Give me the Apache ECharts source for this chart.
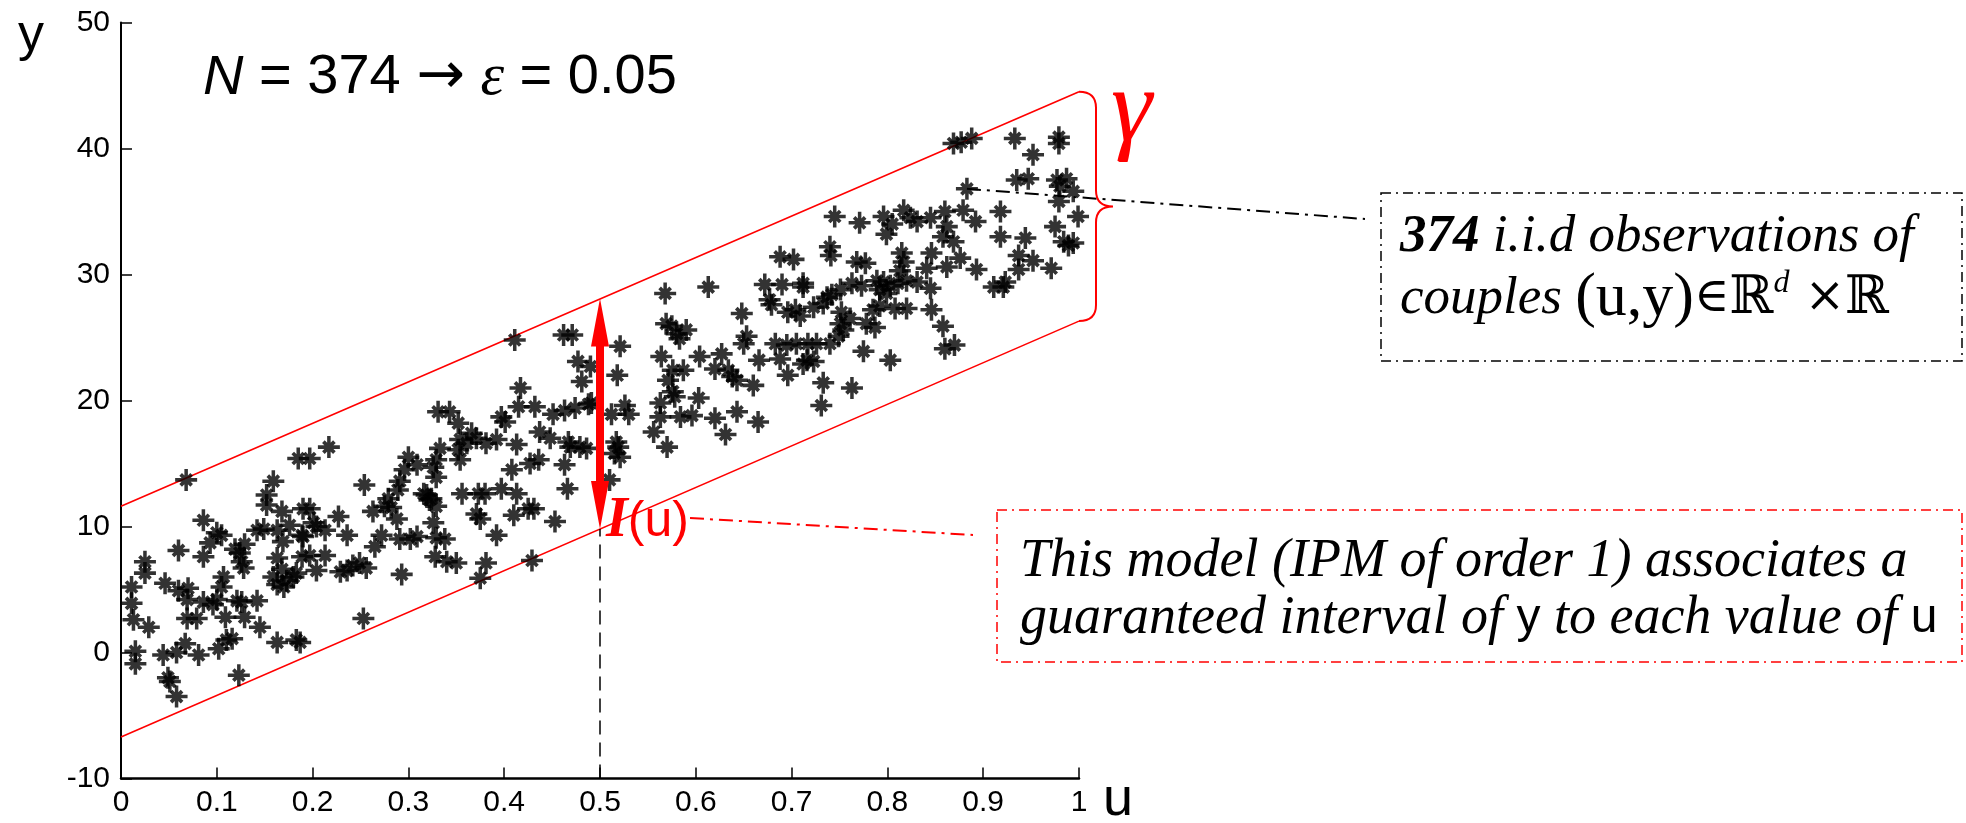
<!DOCTYPE html>
<html>
<head>
<meta charset="utf-8">
<script src="https://cdn.jsdelivr.net/npm/echarts@6/dist/echarts.min.js"></script>
<style>
html, body { margin: 0; padding: 0; background: #fff; }
#main { width: 1966px; height: 823px; }
</style>
</head>
<body>
<div id="main"></div>
<script>
// observations (u, y)
var obsU = [
  0.068,0.185,0.159,0.152,0.152,0.168,0.086,0.100,0.093,0.105,
  0.086,0.060,0.025,0.025,0.011,0.011,0.013,0.029,0.046,0.060,
  0.070,0.069,0.069,0.079,0.086,0.096,0.107,0.105,0.100,0.109,
  0.121,0.126,0.129,0.142,0.145,0.124,0.129,0.119,0.126,0.128,
  0.142,0.149,0.163,0.169,0.163,0.159,0.163,0.173,0.180,0.183,
  0.168,0.189,0.189,0.015,0.015,0.044,0.058,0.067,0.081,0.102,
  0.110,0.116,0.049,0.051,0.058,0.123,0.183,0.187,0.163,0.253,
  0.176,0.170,
  0.197,0.217,0.411,0.331,0.343,0.352,0.354,0.361,0.352,0.354,
  0.371,0.366,0.397,0.401,0.415,0.432,0.417,0.451,0.437,0.448,
  0.392,0.413,0.408,0.427,0.436,0.333,0.329,0.300,0.309,0.326,
  0.329,0.296,0.291,0.289,0.279,0.275,0.282,0.263,0.254,0.288,
  0.319,0.324,0.329,0.326,0.329,0.338,0.328,0.340,0.350,0.309,
  0.302,0.291,0.272,0.265,0.249,0.242,0.236,0.256,0.229,0.293,
  0.356,0.373,0.380,0.397,0.413,0.425,0.431,0.410,0.371,0.375,
  0.392,0.381,0.375,0.429,0.453,0.190,0.197,0.201,0.204,0.213,
  0.227,0.236,0.190,0.197,0.213,0.204,0.316,0.322,0.381,
  0.462,0.471,0.521,0.477,0.490,0.481,0.518,0.568,0.613,0.569,
  0.575,0.580,0.590,0.583,0.564,0.576,0.587,0.571,0.576,0.578,
  0.603,0.563,0.563,0.584,0.596,0.556,0.570,0.604,0.627,0.620,
  0.634,0.643,0.660,0.620,0.643,0.631,0.665,0.648,0.653,0.650,
  0.666,0.688,0.702,0.672,0.690,0.677,0.679,0.712,0.712,0.704,
  0.709,0.683,0.695,0.705,0.688,0.696,0.712,0.716,0.463,0.474,
  0.488,0.491,0.512,0.526,0.530,0.467,0.469,0.479,0.486,0.463,
  0.466,0.517,0.519,0.515,0.521,0.510,0.638,0.696,0.717,
  0.869,0.877,0.888,0.933,0.979,0.979,0.952,0.935,0.947,0.977,
  0.987,0.980,0.994,0.979,0.883,0.918,0.999,0.918,0.944,0.975,
  0.984,0.989,0.994,0.937,0.952,0.937,0.971,0.893,0.911,0.923,
  0.921,0.745,0.771,0.796,0.817,0.824,0.831,0.845,0.805,0.799,
  0.860,0.879,0.892,0.862,0.858,0.869,0.876,0.862,0.846,0.841,
  0.815,0.817,0.813,0.845,0.846,0.858,0.860,0.870,0.803,0.775,
  0.763,0.733,0.731,0.740,0.741,0.768,0.777,0.789,0.796,0.803,
  0.792,0.799,0.811,0.820,0.831,0.763,0.773,0.751,0.742,0.737,
  0.733,0.723,0.752,0.751,0.754,0.749,0.761,0.778,0.787,0.785,
  0.792,0.808,0.820,0.740,0.726,0.723
];
var obsY = [
  13.7,15.4,13.6,12.5,11.7,11.2,10.5,9.5,8.7,9.3,
  7.6,8.1,7.2,6.3,5.2,3.9,2.6,2.0,5.5,4.9,
  5.1,4.2,2.7,2.7,4.0,3.8,6.0,5.2,4.2,2.8,
  4.1,4.0,2.8,4.1,2.0,7.9,8.6,8.2,7.2,6.7,
  9.7,9.8,9.7,8.8,7.5,6.0,5.4,5.7,6.0,6.3,
  6.6,9.3,7.6,0.1,-0.9,-0.2,0.0,0.7,-0.2,0.3,
  1.0,1.1,-2.0,-2.3,-3.5,-1.8,1.0,0.8,0.8,2.7,
  10.1,5.2,
  15.4,16.3,24.8,19.1,19.1,18.2,16.9,16.6,16.1,15.3,
  17.0,17.4,18.7,18.3,19.5,19.5,21.0,18.9,17.5,17.0,
  16.9,16.5,14.5,15.0,15.3,16.2,15.3,15.5,14.9,14.7,
  13.9,14.5,13.6,12.9,12.2,11.6,11.5,11.2,13.3,10.6,
  12.5,12.2,11.6,10.3,9.1,9.0,7.6,7.2,7.1,9.2,
  9.0,9.0,9.3,8.4,7.1,6.9,6.5,6.7,6.4,6.2,
  12.6,12.6,12.6,13.0,12.6,11.4,11.4,10.9,11.0,10.6,
  9.3,7.1,5.9,7.3,10.4,11.4,11.4,10.3,10.0,9.7,
  10.8,9.3,9.2,7.7,7.7,6.5,12.6,12.1,16.6,
  25.2,25.2,24.3,23.1,22.7,21.5,22.0,28.5,29.0,26.1,
  25.9,25.3,25.6,24.9,23.5,22.4,22.4,21.6,20.7,20.3,
  20.2,19.8,18.7,18.7,18.8,17.5,16.3,23.5,23.7,22.5,
  22.4,21.6,21.2,18.6,19.1,17.3,18.3,26.9,25.1,24.5,
  23.2,31.4,31.2,29.2,29.2,28.0,27.6,29.3,29.0,27.2,
  26.7,24.5,24.4,24.5,23.3,22.0,22.9,23.2,19.2,19.4,
  19.7,19.8,18.9,19.6,18.9,16.7,16.3,16.3,16.2,14.9,
  13.0,16.7,16.3,15.8,15.5,13.7,21.9,27.0,24.5,
  40.4,40.5,40.8,40.8,40.4,40.9,39.5,37.5,37.6,37.5,
  37.6,37.0,36.6,35.8,36.8,35.0,34.6,33.0,32.9,33.8,
  32.6,32.3,32.5,31.5,31.1,30.4,30.5,30.4,29.0,29.4,
  29.0,34.6,34.1,34.6,35.1,34.5,34.2,34.5,34.0,33.2,
  35.0,35.1,34.2,33.8,33.0,32.6,31.3,30.6,31.7,30.5,
  31.7,31.0,30.3,28.9,27.2,25.9,24.1,24.4,23.2,23.9,
  21.0,21.4,19.6,32.2,31.5,31.0,30.9,29.5,29.4,29.1,
  28.8,28.5,29.3,29.5,29.4,29.3,29.1,28.8,28.4,28.2,
  27.7,27.4,27.0,26.1,25.6,25.1,26.5,26.1,25.8,27.2,
  27.5,27.3,27.3,24.5,24.5,23.1
];

// guaranteed band (IPM of order 1)
var bandU = [0, 1];
var bandUpper = [11.6, 44.5];
var bandLower = [-6.7, 26.3];

// interval shown at u = 0.5
var probeU = 0.5;
var probeLow = 9.8;
var probeHigh = 28.1;
var axisBottom = -10;

// point the black callout points to
var calloutPoint = [0.883, 36.8];

var xTicks = [0, 0.1, 0.2, 0.3, 0.4, 0.5, 0.6, 0.7, 0.8, 0.9, 1];
var yTicks = [-10, 0, 10, 20, 30, 40, 50];

var tickFont = "'Liberation Sans Narrow', 'Liberation Sans', Arial, sans-serif";
var sans = "'Liberation Sans', Arial, sans-serif";
var serif = "'Liberation Serif', 'Times New Roman', serif";

// matlab '*' marker
var starPath = 'path://M0,8.4H20V11.6H0Z M8.4,0H11.6V20H8.4Z M3.8,6.2L6.2,3.8L16.2,13.8L13.8,16.2Z M13.8,3.8L16.2,6.2L6.2,16.2L3.8,13.8Z M6.5,6.5H13.5V13.5H6.5Z';

var points = obsU.map(function (u, i) { return [u, obsY[i]]; });
var upperLine = bandU.map(function (u, i) { return [u, bandUpper[i]]; });
var lowerLine = bandU.map(function (u, i) { return [u, bandLower[i]]; });

var chart = echarts.init(document.getElementById('main'));

var option = {
    animation: false,
    backgroundColor: '#fff',
    grid: { left: 121, right: 887, top: 22.5, bottom: 44.5 },
    xAxis: {
        type: 'value',
        min: xTicks[0],
        max: xTicks[xTicks.length - 1],
        interval: 0.1,
        axisLine: { show: true, onZero: false, lineStyle: { color: '#000', width: 2.5 } },
        axisTick: { show: true, inside: true, length: 11, lineStyle: { color: '#000', width: 1.5 } },
        axisLabel: {
            margin: 9, color: '#000', fontSize: 30, fontFamily: tickFont,
            formatter: function (v) { return String(+v.toFixed(1)); }
        },
        splitLine: { show: false }
    },
    yAxis: {
        type: 'value',
        min: yTicks[0],
        max: yTicks[yTicks.length - 1],
        interval: 10,
        axisLine: { show: true, onZero: false, lineStyle: { color: '#000', width: 2 } },
        axisTick: { show: true, inside: true, length: 11, lineStyle: { color: '#000', width: 1.5 } },
        axisLabel: { margin: 11, color: '#000', fontSize: 30, fontFamily: tickFont },
        splitLine: { show: false }
    },
    series: [
        {
            type: 'line', data: upperLine, showSymbol: false, silent: true, z: 2,
            lineStyle: { color: '#ff0000', width: 1.6 }
        },
        {
            type: 'line', data: lowerLine, showSymbol: false, silent: true, z: 2,
            lineStyle: { color: '#ff0000', width: 1.6 }
        },
        {
            type: 'line', data: [[probeU, axisBottom], [probeU, probeLow]],
            showSymbol: false, silent: true, z: 2,
            lineStyle: { color: '#000', width: 1.5, type: [14, 8] }
        },
        {
            type: 'scatter', data: points, symbol: starPath, symbolSize: 22, z: 3,
            itemStyle: { color: '#000' }
        },
        {
            // double arrow for I(u)
            type: 'custom', data: [[probeU, probeLow, probeHigh]], z: 4, clip: false,
            encode: { x: 0, y: [1, 2] },
            renderItem: function (params, api) {
                var lo = api.coord([api.value(0), api.value(1)]);
                var hi = api.coord([api.value(0), api.value(2)]);
                var x = lo[0], hw = 9, sw = 4, hl = 48;
                return {
                    type: 'polygon',
                    shape: { points: [
                        [x, lo[1]], [x - hw, lo[1] - hl], [x - sw, lo[1] - hl], [x - sw, hi[1] + hl],
                        [x - hw, hi[1] + hl], [x, hi[1]], [x + hw, hi[1] + hl], [x + sw, hi[1] + hl],
                        [x + sw, lo[1] - hl], [x + hw, lo[1] - hl]
                    ] },
                    style: { fill: '#ff0000' }
                };
            }
        },
        {
            // curly brace = gamma
            type: 'custom', data: [[bandU[1], bandUpper[1], bandLower[1]]], z: 4, clip: false,
            encode: { x: 0, y: [1, 2] },
            renderItem: function (params, api) {
                var t = api.coord([api.value(0), api.value(1)]);
                var b = api.coord([api.value(0), api.value(2)]);
                var x0 = t[0], x1 = x0 + 17, x2 = x0 + 34, yt = t[1], yb = b[1];
                var ym = (yt + yb) / 2, r = 16;
                var d = 'M' + x0 + ',' + yt + ' Q' + x1 + ',' + yt + ' ' + x1 + ',' + (yt + r) +
                    ' L' + x1 + ',' + (ym - r) + ' Q' + x1 + ',' + ym + ' ' + x2 + ',' + ym +
                    ' Q' + x1 + ',' + ym + ' ' + x1 + ',' + (ym + r) +
                    ' L' + x1 + ',' + (yb - r) + ' Q' + x1 + ',' + yb + ' ' + x0 + ',' + yb;
                return { type: 'path', shape: { pathData: d }, style: { fill: 'none', stroke: '#ff0000', lineWidth: 2 } };
            }
        }
    ]
};
chart.setOption(option);

var cp = chart.convertToPixel({ gridIndex: 0 }, calloutPoint);

chart.setOption({
    graphic: [
        // axis names
        {
            type: 'text', x: 31, y: 10,
            style: { text: '{a|y}', align: 'center', verticalAlign: 'top',
                rich: { a: { fontSize: 52, fontFamily: sans, fill: '#000', lineHeight: 52 } } }
        },
        {
            type: 'text', x: 1103, y: 773,
            style: { text: '{a|u}', align: 'left', verticalAlign: 'top',
                rich: { a: { fontSize: 54, fontFamily: sans, fill: '#000', lineHeight: 54 } } }
        },
        // title
        {
            type: 'text', x: 203, y: 50,
            style: {
                text: '{n|N} = 374 {a|\u2192} {e|\u03b5} = 0.05',
                fill: '#000', fontSize: 56, fontFamily: sans, verticalAlign: 'top', lineHeight: 56,
                rich: {
                    n: { fontSize: 56, fontFamily: sans, fontStyle: 'italic', lineHeight: 56 },
                    a: { fontSize: 58, fontFamily: "'DejaVu Sans', sans-serif", lineHeight: 56 },
                    e: { fontSize: 60, fontFamily: serif, fontStyle: 'italic', lineHeight: 56 }
                }
            }
        },
        // gamma
        {
            type: 'text', x: 1111, y: 63,
            style: { text: '{g|\u03b3}', verticalAlign: 'top',
                rich: { g: { fontSize: 104, fontFamily: serif, fontStyle: 'italic', fill: '#ff0000', lineHeight: 100 } } }
        },
        // I(u)
        {
            type: 'text', x: 606, y: 494,
            style: {
                text: '{i|I}{p|(u)}', verticalAlign: 'top',
                rich: {
                    i: { fontSize: 56, fontFamily: serif, fontStyle: 'italic', fontWeight: 'bold', fill: '#ff0000', lineHeight: 56 },
                    p: { fontSize: 50, fontFamily: sans, fill: '#ff0000', lineHeight: 56 }
                }
            }
        },
        // black callout
        { type: 'line', shape: { x1: cp[0], y1: cp[1], x2: 1365, y2: 219 }, style: { stroke: '#000', lineWidth: 2, lineDash: [14, 6, 3, 6] } },
        { type: 'rect', shape: { x: 1381, y: 193, width: 581, height: 168 }, style: { fill: 'none', stroke: '#000', lineWidth: 1.5, lineDash: [10, 5, 2, 5] } },
        {
            type: 'text', x: 1400, y: 206,
            style: {
                text: '{b|374}{i| i.i.d observations of}\n{i|couples }{p|(u,y)}{m|\u2208}{r|\u211d}{d|d}{m| \u00d7}{r|\u211d}',
                verticalAlign: 'top',
                rich: {
                    b: { fontSize: 53, fontFamily: serif, fontStyle: 'italic', fontWeight: 'bold', fill: '#000', lineHeight: 62 },
                    i: { fontSize: 53, fontFamily: serif, fontStyle: 'italic', fill: '#000', lineHeight: 62 },
                    p: { fontSize: 62, fontFamily: serif, fill: '#000', lineHeight: 62 },
                    m: { fontSize: 48, fontFamily: "'DejaVu Serif', serif", fill: '#000', lineHeight: 62 },
                    r: { fontSize: 53, fontFamily: "'DejaVu Serif', 'DejaVu Sans', serif", fill: '#000', lineHeight: 62 },
                    d: { fontSize: 32, fontFamily: serif, fontStyle: 'italic', fill: '#000', lineHeight: 30, verticalAlign: 'top' }
                }
            }
        },
        // red callout
        { type: 'line', shape: { x1: 690, y1: 518, x2: 973, y2: 535 }, style: { stroke: '#ff0000', lineWidth: 2, lineDash: [14, 6, 3, 6] } },
        { type: 'rect', shape: { x: 997, y: 510, width: 965, height: 152 }, style: { fill: 'none', stroke: '#ff0000', lineWidth: 1.5, lineDash: [10, 5, 2, 5] } },
        {
            type: 'text', x: 1020, y: 533,
            style: {
                text: '{i|This model (IPM of order 1) associates a}\n{i|guaranteed interval of }{s|y}{i| to each value of }{s|u}',
                verticalAlign: 'top',
                rich: {
                    i: { fontSize: 54, fontFamily: serif, fontStyle: 'italic', fill: '#000', lineHeight: 57 },
                    s: { fontSize: 48, fontFamily: sans, fill: '#000', lineHeight: 57 }
                }
            }
        }
    ]
});
</script>
</body>
</html>
